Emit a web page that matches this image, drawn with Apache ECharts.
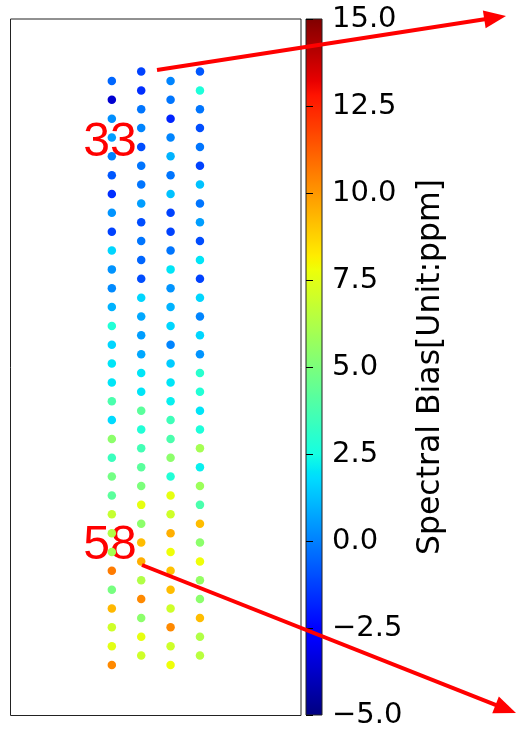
<!DOCTYPE html>
<html><head><meta charset="utf-8">
<script src="https://cdn.jsdelivr.net/npm/echarts@6.0.0/dist/echarts.min.js"></script>
<style>html,body{margin:0;padding:0;background:#fff}#c{width:518px;height:730px}</style>
</head><body><div id="c"></div>
<script>
// ---- data ----
const footprints = [1, 2, 3, 4];
const trackOffset = [0, -0.5, 0, -0.5];
const col1 = [-0.5,-3.6,0.3,0.6,0.0,-0.8,-1.6,0.4,-1.2,1.7,0.4,0.2,1.0,2.8,1.7,2.0,2.0,3.8,1.8,5.4,3.4,4.8,4.2,6.8,6.3,6.0,10.6,4.9,9.3,7.0,7.5,10.3];
const col2 = [-1.2,-1.6,-0.2,0.1,-1.0,-0.2,-0.2,0.6,-1.0,-0.2,-0.5,-1.0,1.7,0.8,0.6,0.8,2.0,2.0,4.2,2.8,3.6,4.2,5.0,7.6,5.4,9.2,9.5,6.3,10.3,5.4,7.6,7.0];
const col3 = [0.1,-0.2,-1.8,0.1,1.0,-0.2,1.3,-1.2,-1.2,-0.2,2.0,0.4,1.0,1.7,0.1,1.5,2.0,2.2,3.5,3.8,5.4,2.8,7.6,7.0,9.5,7.8,9.1,9.2,7.0,10.3,7.0,7.8];
const col4 = [-0.8,2.7,-0.2,-1.0,-0.2,-1.2,1.3,-0.2,0.6,-1.0,2.0,-1.2,1.7,0.1,1.7,0.4,3.0,2.8,2.0,2.7,6.0,2.2,5.8,3.8,9.2,5.4,7.8,5.6,5.4,9.2,6.3,6.5];
const columns = [col1, col2, col3, col4];
const cbMin = -5, cbMax = 15, cbStep = 2.5;
const cbLabel = 'Spectral Bias[Unit:ppm]';
const markLabels = ['33', '58'];

// ---- jet colormap ----
function seg(t, pts){
  for (let i = 1; i < pts.length; i++) {
    if (t <= pts[i][0]) {
      const a = pts[i-1], b = pts[i];
      return a[1] + (b[1]-a[1]) * (t - a[0]) / (b[0]-a[0]);
    }
  }
  return pts[pts.length-1][1];
}
function jet(t){
  const r = seg(t, [[0,0],[0.35,0],[0.66,1],[0.89,1],[1,0.5]]);
  const g = seg(t, [[0,0],[0.125,0],[0.375,1],[0.64,1],[0.91,0],[1,0]]);
  const b = seg(t, [[0,0.5],[0.11,1],[0.34,1],[0.65,0],[1,0]]);
  return 'rgb(' + Math.round(r*255) + ',' + Math.round(g*255) + ',' + Math.round(b*255) + ')';
}
const N = 200;
const jetColors = [];
const jetStops = [];
for (let i = 0; i <= N; i++) {
  jetColors.push(jet(i/N));
  jetStops.push({offset: i/N, color: jet(i/N)});
}

const data = [];
columns.forEach((col, ci) => {
  col.forEach((v, k) => data.push([footprints[ci], k + trackOffset[ci], v]));
});

function arrow(x1, y1, x2, y2){
  const L = 22, W = 9;
  const dx = x2 - x1, dy = y2 - y1, len = Math.hypot(dx, dy);
  const ux = dx/len, uy = dy/len;
  const bx = x2 - ux*L, by = y2 - uy*L;
  return [
    {type:'line', z:100, shape:{x1:x1, y1:y1, x2:bx + ux*2, y2:by + uy*2}, style:{stroke:'#ff0000', lineWidth:4}},
    {type:'polygon', z:100, shape:{points:[[x2,y2],[bx - uy*W, by + ux*W],[bx + uy*W, by - ux*W]]}, style:{fill:'#ff0000'}}
  ];
}

const chart = echarts.init(document.getElementById('c'), null, {renderer:'canvas'});
chart.setOption({
  backgroundColor: '#fff',
  animation: false,
  grid: [
    {left: 10.5, top: 19, width: 290.5, height: 696.5, show: true, borderColor: '#222', borderWidth: 1, backgroundColor: 'transparent'},
    {left: 306, top: 19, width: 16, height: 696, show: true, borderColor: '#222', borderWidth: 1,
     backgroundColor: {type:'linear', x:0, y:1, x2:0, y2:0, colorStops: jetStops}}
  ],
  xAxis: [
    {gridIndex: 0, type: 'value', min: -2.45, max: 7.44, show: false},
    {gridIndex: 1, type: 'value', min: 0, max: 1, show: false}
  ],
  yAxis: [
    {gridIndex: 0, type: 'value', inverse: true, min: -3.29, max: 33.68, show: false},
    {gridIndex: 1, type: 'value', position: 'right', min: cbMin, max: cbMax, interval: cbStep,
     axisLine: {show: false}, splitLine: {show: false},
     axisTick: {show: true, length: 7, lineStyle: {color: '#000', width: 1}},
     axisLabel: {show: true, margin: 10, color: '#000', fontFamily: 'DejaVu Sans', fontSize: 29,
       formatter: v => (v < 0 ? '\u2212' : '') + Math.abs(v).toFixed(1)},
     name: cbLabel, nameLocation: 'middle', nameRotate: 90, nameGap: 109,
     nameTextStyle: {color: '#000', fontFamily: 'DejaVu Sans', fontSize: 31.5, verticalAlign: 'middle'}}
  ],
  visualMap: {show: false, type: 'continuous', dimension: 2, min: cbMin, max: cbMax, seriesIndex: 0,
    inRange: {color: jetColors}},
  series: [{
    type: 'scatter', xAxisIndex: 0, yAxisIndex: 0, data: data, symbolSize: 8.5, z: 5,
    itemStyle: {opacity: 1}
  }],
  graphic: [
    {type:'text', z:1, style:{text: markLabels[0], x:110, y:143, font:'48px "Liberation Sans"', fill:'#ff0000', align:'center', verticalAlign:'middle'}},
    {type:'text', z:1, style:{text: markLabels[1], x:110, y:546, font:'48px "Liberation Sans"', fill:'#ff0000', align:'center', verticalAlign:'middle'}},
    ...arrow(157, 70, 506, 16),
    ...arrow(142, 565, 516, 713)
  ]
});
</script></body></html>
